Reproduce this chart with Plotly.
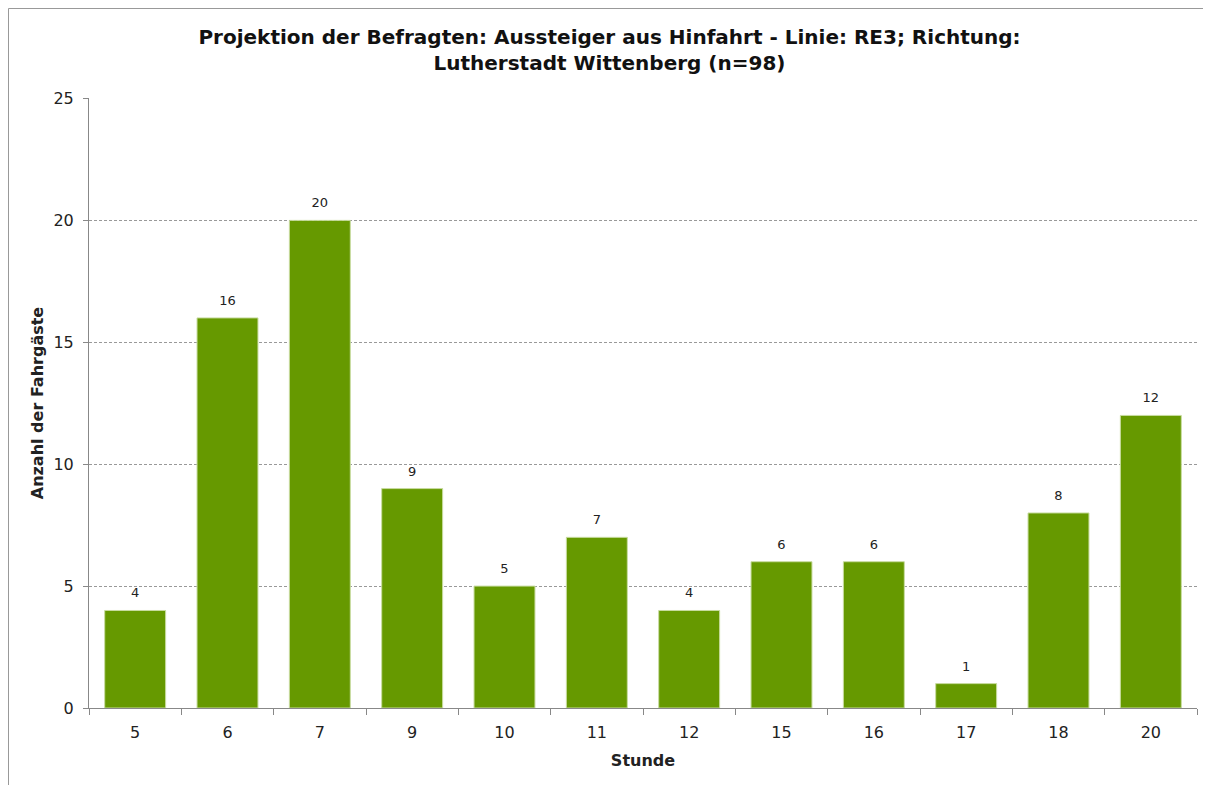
import plotly.graph_objects as go

stunden = ["5", "6", "7", "9", "10", "11", "12", "15", "16", "17", "18", "20"]
anzahl = [4, 16, 20, 9, 5, 7, 4, 6, 6, 1, 8, 12]
y_ticks = [0, 5, 10, 15, 20, 25]

title_text = ("Projektion der Befragten: Aussteiger aus Hinfahrt - Linie: RE3; Richtung:<br>"
              "Lutherstadt Wittenberg (n=98)")

# page has an 8px body margin, so the figure is drawn 8px in from the top-left
W, H = 1203, 777
ml, mr, mt, mb = 81, 14, 90, 77

fig = go.Figure()
fig.add_trace(go.Bar(
    x=stunden, y=anzahl,
    marker=dict(color="#669900", line=dict(color="#c8dca0", width=1)),
    hoverinfo="x+y",
))
# value labels, lifted above the bars by an invisible marker
fig.add_trace(go.Scatter(
    x=stunden, y=anzahl, mode="markers+text",
    text=[str(v) for v in anzahl], textposition="top center",
    marker=dict(size=14, opacity=0),
    textfont=dict(family="DejaVu Sans", size=13, color="#222222"),
    cliponaxis=False, hoverinfo="skip",
))

fig.update_layout(
    width=W, height=H,
    margin=dict(l=ml, r=mr, t=mt, b=mb, autoexpand=False),
    paper_bgcolor="white", plot_bgcolor="white",
    bargap=0.34,
    showlegend=False,
    font=dict(family="DejaVu Sans", color="#222222"),
    title=dict(text=title_text, x=0.5, xanchor="center", y=1 - 36 / H, yanchor="top",
               font=dict(family="DejaVu Sans", size=20, color="#111111", weight="bold")),
    xaxis=dict(
        type="category", automargin=False, range=[-0.5, len(stunden) - 0.5],
        showline=True, linecolor="#888888", linewidth=1,
        ticks="outside", tickson="boundaries", ticklen=6, tickcolor="#888888",
        tickfont=dict(size=16, color="#222222"), ticklabelstandoff=10,
        showgrid=False,
        title=dict(text="<b>Stunde</b>", font=dict(size=16, color="#222222"), standoff=13),
    ),
    yaxis=dict(
        range=[0, 25.02], tickvals=y_ticks, automargin=False,
        showline=True, linecolor="#888888", linewidth=1,
        ticks="outside", ticklen=5, tickcolor="#888888",
        tickfont=dict(size=16, color="#222222"), ticklabelstandoff=6,
        showgrid=True, gridcolor="#999999", griddash="3px,2px", gridwidth=1,
        zeroline=False,
        title=dict(text="<b>Anzahl der Fahrgäste</b>", font=dict(size=16, color="#222222"), standoff=5),
    ),
    shapes=[dict(type="rect", xref="paper", yref="paper",
                 x0=-(ml - 0.5) / (W - ml - mr), x1=1.2,
                 y0=-(mb + 5) / (H - mt - mb), y1=1 + (mt - 0.5) / (H - mt - mb),
                 line=dict(color="#999999", width=1), fillcolor="rgba(0,0,0,0)", layer="below")],
)

fig.write_html("out.html")
